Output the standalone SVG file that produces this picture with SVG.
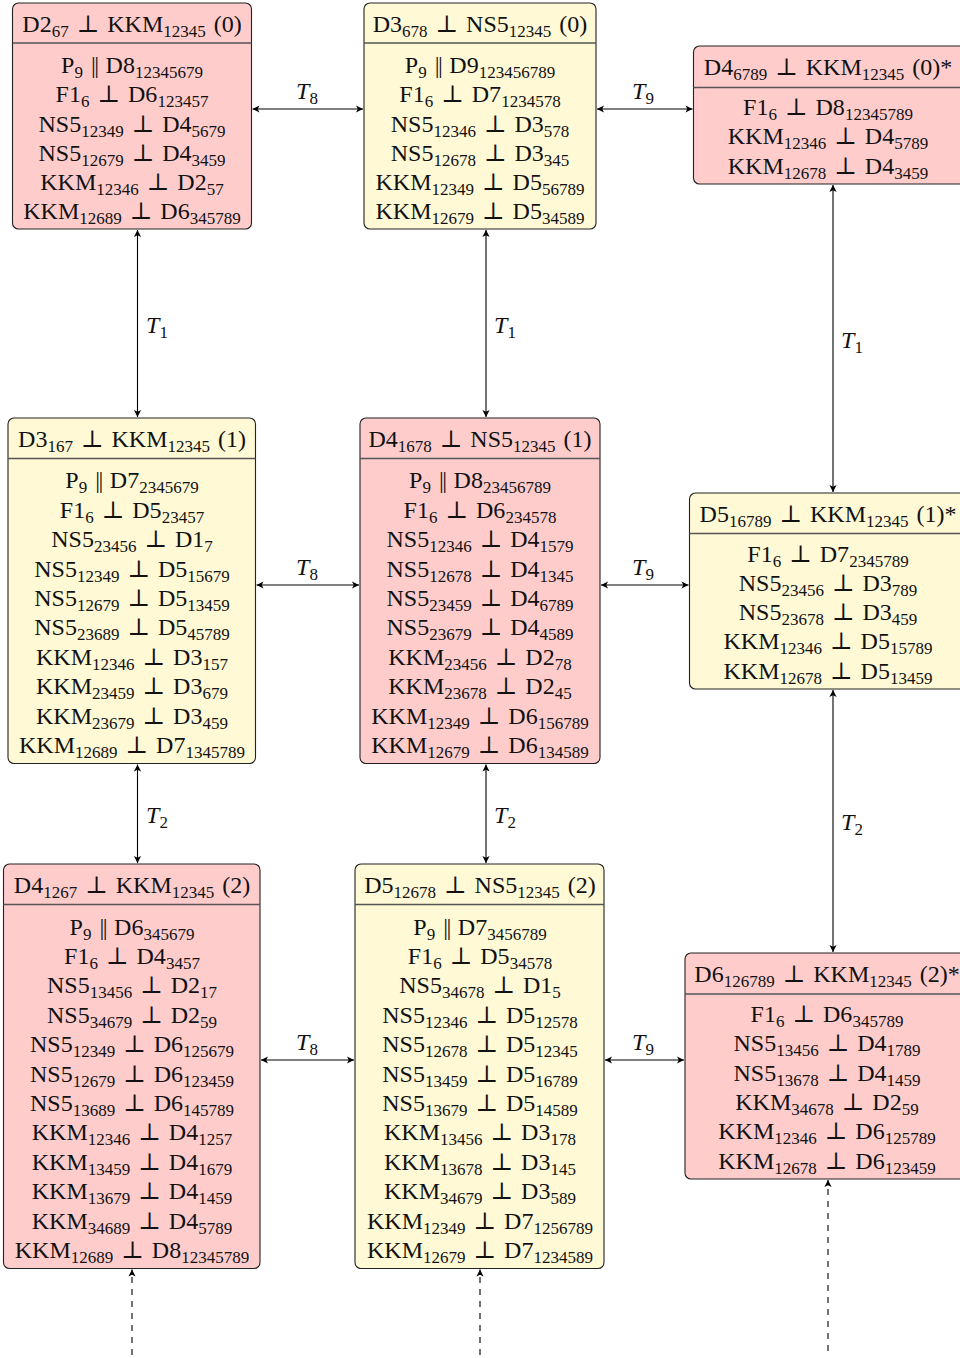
<svg xmlns="http://www.w3.org/2000/svg" width="960" height="1358" viewBox="0 0 960 1358">
<style>
.bx{stroke:#222;stroke-width:1.1}
.pk{fill:#FFCCCC}
.yl{fill:#FFF9D6}
.dv{stroke:#555;stroke-width:1.4}
text{font-family:"Liberation Serif","DejaVu Serif",serif;font-size:24px;fill:#111;text-anchor:middle;word-spacing:2px}
.s{font-size:17px;baseline-shift:-4.5px}
.i{font-style:italic}
.p{letter-spacing:-1.5px}
.c{stroke:#000;stroke-width:1.1;fill:none}
.d{stroke-dasharray:6 6}
</style>
<defs>
<marker id="ah" viewBox="-8 -5 9 10" refX="0" refY="0" markerWidth="9" markerHeight="10" markerUnits="userSpaceOnUse" orient="auto-start-reverse">
<path d="M0,0 L-7,-3.6 L-5.2,0 L-7,3.6 Z" fill="#000"/>
</marker>
</defs>

<g id="connectors">
<line class="c" x1="252.5" y1="109" x2="363" y2="109" marker-start="url(#ah)" marker-end="url(#ah)"/>
<line class="c" x1="597" y1="109" x2="692.5" y2="109" marker-start="url(#ah)" marker-end="url(#ah)"/>
<line class="c" x1="256.5" y1="585" x2="359" y2="585" marker-start="url(#ah)" marker-end="url(#ah)"/>
<line class="c" x1="601" y1="585" x2="688.5" y2="585" marker-start="url(#ah)" marker-end="url(#ah)"/>
<line class="c" x1="261" y1="1060" x2="354" y2="1060" marker-start="url(#ah)" marker-end="url(#ah)"/>
<line class="c" x1="605" y1="1060" x2="684" y2="1060" marker-start="url(#ah)" marker-end="url(#ah)"/>
<line class="c" x1="137.5" y1="230" x2="137.5" y2="417" marker-start="url(#ah)" marker-end="url(#ah)"/>
<line class="c" x1="486" y1="230" x2="486" y2="417" marker-start="url(#ah)" marker-end="url(#ah)"/>
<line class="c" x1="833" y1="185" x2="833" y2="492" marker-start="url(#ah)" marker-end="url(#ah)"/>
<line class="c" x1="137.5" y1="764.5" x2="137.5" y2="863" marker-start="url(#ah)" marker-end="url(#ah)"/>
<line class="c" x1="486" y1="764.5" x2="486" y2="863" marker-start="url(#ah)" marker-end="url(#ah)"/>
<line class="c" x1="833" y1="690" x2="833" y2="952" marker-start="url(#ah)" marker-end="url(#ah)"/>
<line class="c d" x1="132" y1="1355" x2="132" y2="1269.5" marker-end="url(#ah)"/>
<line class="c d" x1="480" y1="1355" x2="480" y2="1269.5" marker-end="url(#ah)"/>
<line class="c d" x1="828" y1="1351" x2="828" y2="1180" marker-end="url(#ah)"/>
<text x="307" y="99"><tspan class="i">T</tspan><tspan class="s">8</tspan></text>
<text x="643" y="99"><tspan class="i">T</tspan><tspan class="s">9</tspan></text>
<text x="307" y="575"><tspan class="i">T</tspan><tspan class="s">8</tspan></text>
<text x="643" y="575"><tspan class="i">T</tspan><tspan class="s">9</tspan></text>
<text x="307" y="1050"><tspan class="i">T</tspan><tspan class="s">8</tspan></text>
<text x="643" y="1050"><tspan class="i">T</tspan><tspan class="s">9</tspan></text>
<text x="157" y="333"><tspan class="i">T</tspan><tspan class="s">1</tspan></text>
<text x="505" y="333"><tspan class="i">T</tspan><tspan class="s">1</tspan></text>
<text x="852" y="348"><tspan class="i">T</tspan><tspan class="s">1</tspan></text>
<text x="157" y="823"><tspan class="i">T</tspan><tspan class="s">2</tspan></text>
<text x="505" y="823"><tspan class="i">T</tspan><tspan class="s">2</tspan></text>
<text x="852" y="830"><tspan class="i">T</tspan><tspan class="s">2</tspan></text>
</g>

<g id="n1">
<rect class="bx pk" x="12.5" y="3" width="239" height="226" rx="6"/>
<line class="dv" x1="12.5" y1="43" x2="251.5" y2="43"/>
<text x="132" y="31.5">D2<tspan class="s">67</tspan> ⊥ KKM<tspan class="s">12345</tspan> (0)</text>
<text x="132" y="73">P<tspan class="s">9</tspan> <tspan class="p">||</tspan> D8<tspan class="s">12345679</tspan></text>
<text x="132" y="102">F1<tspan class="s">6</tspan> ⊥ D6<tspan class="s">123457</tspan></text>
<text x="132" y="131.5">NS5<tspan class="s">12349</tspan> ⊥ D4<tspan class="s">5679</tspan></text>
<text x="132" y="160.5">NS5<tspan class="s">12679</tspan> ⊥ D4<tspan class="s">3459</tspan></text>
<text x="132" y="190">KKM<tspan class="s">12346</tspan> ⊥ D2<tspan class="s">57</tspan></text>
<text x="132" y="219">KKM<tspan class="s">12689</tspan> ⊥ D6<tspan class="s">345789</tspan></text>
</g>

<g id="n2">
<rect class="bx yl" x="364" y="3" width="232" height="226" rx="6"/>
<line class="dv" x1="364" y1="43" x2="596" y2="43"/>
<text x="480" y="31.5">D3<tspan class="s">678</tspan> ⊥ NS5<tspan class="s">12345</tspan> (0)</text>
<text x="480" y="73">P<tspan class="s">9</tspan> <tspan class="p">||</tspan> D9<tspan class="s">123456789</tspan></text>
<text x="480" y="102">F1<tspan class="s">6</tspan> ⊥ D7<tspan class="s">1234578</tspan></text>
<text x="480" y="131.5">NS5<tspan class="s">12346</tspan> ⊥ D3<tspan class="s">578</tspan></text>
<text x="480" y="160.5">NS5<tspan class="s">12678</tspan> ⊥ D3<tspan class="s">345</tspan></text>
<text x="480" y="190">KKM<tspan class="s">12349</tspan> ⊥ D5<tspan class="s">56789</tspan></text>
<text x="480" y="219">KKM<tspan class="s">12679</tspan> ⊥ D5<tspan class="s">34589</tspan></text>
</g>

<g id="n3">
<rect class="bx pk" x="693.5" y="46" width="272" height="138" rx="6"/>
<line class="dv" x1="693.5" y1="87.5" x2="965.5" y2="87.5"/>
<text x="828" y="74.5">D4<tspan class="s">6789</tspan> ⊥ KKM<tspan class="s">12345</tspan> (0)*</text>
<text x="828" y="115">F1<tspan class="s">6</tspan> ⊥ D8<tspan class="s">12345789</tspan></text>
<text x="828" y="144.3">KKM<tspan class="s">12346</tspan> ⊥ D4<tspan class="s">5789</tspan></text>
<text x="828" y="173.6">KKM<tspan class="s">12678</tspan> ⊥ D4<tspan class="s">3459</tspan></text>
</g>

<g id="n4">
<rect class="bx yl" x="8" y="418" width="247.5" height="345.5" rx="6"/>
<line class="dv" x1="8" y1="458.5" x2="255.5" y2="458.5"/>
<text x="132" y="446.5">D3<tspan class="s">167</tspan> ⊥ KKM<tspan class="s">12345</tspan> (1)</text>
<text x="132" y="488.4">P<tspan class="s">9</tspan> <tspan class="p">||</tspan> D7<tspan class="s">2345679</tspan></text>
<text x="132" y="517.8">F1<tspan class="s">6</tspan> ⊥ D5<tspan class="s">23457</tspan></text>
<text x="132" y="547.2">NS5<tspan class="s">23456</tspan> ⊥ D1<tspan class="s">7</tspan></text>
<text x="132" y="576.6">NS5<tspan class="s">12349</tspan> ⊥ D5<tspan class="s">15679</tspan></text>
<text x="132" y="606">NS5<tspan class="s">12679</tspan> ⊥ D5<tspan class="s">13459</tspan></text>
<text x="132" y="635.4">NS5<tspan class="s">23689</tspan> ⊥ D5<tspan class="s">45789</tspan></text>
<text x="132" y="664.8">KKM<tspan class="s">12346</tspan> ⊥ D3<tspan class="s">157</tspan></text>
<text x="132" y="694.2">KKM<tspan class="s">23459</tspan> ⊥ D3<tspan class="s">679</tspan></text>
<text x="132" y="723.6">KKM<tspan class="s">23679</tspan> ⊥ D3<tspan class="s">459</tspan></text>
<text x="132" y="753">KKM<tspan class="s">12689</tspan> ⊥ D7<tspan class="s">1345789</tspan></text>
</g>

<g id="n5">
<rect class="bx pk" x="360" y="418" width="240" height="345.5" rx="6"/>
<line class="dv" x1="360" y1="458.5" x2="600" y2="458.5"/>
<text x="480" y="446.5">D4<tspan class="s">1678</tspan> ⊥ NS5<tspan class="s">12345</tspan> (1)</text>
<text x="480" y="488.4">P<tspan class="s">9</tspan> <tspan class="p">||</tspan> D8<tspan class="s">23456789</tspan></text>
<text x="480" y="517.8">F1<tspan class="s">6</tspan> ⊥ D6<tspan class="s">234578</tspan></text>
<text x="480" y="547.2">NS5<tspan class="s">12346</tspan> ⊥ D4<tspan class="s">1579</tspan></text>
<text x="480" y="576.6">NS5<tspan class="s">12678</tspan> ⊥ D4<tspan class="s">1345</tspan></text>
<text x="480" y="606">NS5<tspan class="s">23459</tspan> ⊥ D4<tspan class="s">6789</tspan></text>
<text x="480" y="635.4">NS5<tspan class="s">23679</tspan> ⊥ D4<tspan class="s">4589</tspan></text>
<text x="480" y="664.8">KKM<tspan class="s">23456</tspan> ⊥ D2<tspan class="s">78</tspan></text>
<text x="480" y="694.2">KKM<tspan class="s">23678</tspan> ⊥ D2<tspan class="s">45</tspan></text>
<text x="480" y="723.6">KKM<tspan class="s">12349</tspan> ⊥ D6<tspan class="s">156789</tspan></text>
<text x="480" y="753">KKM<tspan class="s">12679</tspan> ⊥ D6<tspan class="s">134589</tspan></text>
</g>

<g id="n6">
<rect class="bx yl" x="689.5" y="493" width="277" height="196" rx="6"/>
<line class="dv" x1="689.5" y1="533.5" x2="966.5" y2="533.5"/>
<text x="828" y="521.5">D5<tspan class="s">16789</tspan> ⊥ KKM<tspan class="s">12345</tspan> (1)*</text>
<text x="828" y="561.5">F1<tspan class="s">6</tspan> ⊥ D7<tspan class="s">2345789</tspan></text>
<text x="828" y="590.8">NS5<tspan class="s">23456</tspan> ⊥ D3<tspan class="s">789</tspan></text>
<text x="828" y="620.1">NS5<tspan class="s">23678</tspan> ⊥ D3<tspan class="s">459</tspan></text>
<text x="828" y="649.4">KKM<tspan class="s">12346</tspan> ⊥ D5<tspan class="s">15789</tspan></text>
<text x="828" y="678.7">KKM<tspan class="s">12678</tspan> ⊥ D5<tspan class="s">13459</tspan></text>
</g>

<g id="n7">
<rect class="bx pk" x="3.5" y="864" width="256.5" height="404.5" rx="6"/>
<line class="dv" x1="3.5" y1="904.5" x2="260" y2="904.5"/>
<text x="132" y="892.5">D4<tspan class="s">1267</tspan> ⊥ KKM<tspan class="s">12345</tspan> (2)</text>
<text x="132" y="934.6">P<tspan class="s">9</tspan> <tspan class="p">||</tspan> D6<tspan class="s">345679</tspan></text>
<text x="132" y="964">F1<tspan class="s">6</tspan> ⊥ D4<tspan class="s">3457</tspan></text>
<text x="132" y="993.4">NS5<tspan class="s">13456</tspan> ⊥ D2<tspan class="s">17</tspan></text>
<text x="132" y="1022.8">NS5<tspan class="s">34679</tspan> ⊥ D2<tspan class="s">59</tspan></text>
<text x="132" y="1052.2">NS5<tspan class="s">12349</tspan> ⊥ D6<tspan class="s">125679</tspan></text>
<text x="132" y="1081.6">NS5<tspan class="s">12679</tspan> ⊥ D6<tspan class="s">123459</tspan></text>
<text x="132" y="1111">NS5<tspan class="s">13689</tspan> ⊥ D6<tspan class="s">145789</tspan></text>
<text x="132" y="1140.4">KKM<tspan class="s">12346</tspan> ⊥ D4<tspan class="s">1257</tspan></text>
<text x="132" y="1169.8">KKM<tspan class="s">13459</tspan> ⊥ D4<tspan class="s">1679</tspan></text>
<text x="132" y="1199.2">KKM<tspan class="s">13679</tspan> ⊥ D4<tspan class="s">1459</tspan></text>
<text x="132" y="1228.6">KKM<tspan class="s">34689</tspan> ⊥ D4<tspan class="s">5789</tspan></text>
<text x="132" y="1258">KKM<tspan class="s">12689</tspan> ⊥ D8<tspan class="s">12345789</tspan></text>
</g>

<g id="n8">
<rect class="bx yl" x="355" y="864" width="249" height="404.5" rx="6"/>
<line class="dv" x1="355" y1="904.5" x2="604" y2="904.5"/>
<text x="480" y="892.5">D5<tspan class="s">12678</tspan> ⊥ NS5<tspan class="s">12345</tspan> (2)</text>
<text x="480" y="934.6">P<tspan class="s">9</tspan> <tspan class="p">||</tspan> D7<tspan class="s">3456789</tspan></text>
<text x="480" y="964">F1<tspan class="s">6</tspan> ⊥ D5<tspan class="s">34578</tspan></text>
<text x="480" y="993.4">NS5<tspan class="s">34678</tspan> ⊥ D1<tspan class="s">5</tspan></text>
<text x="480" y="1022.8">NS5<tspan class="s">12346</tspan> ⊥ D5<tspan class="s">12578</tspan></text>
<text x="480" y="1052.2">NS5<tspan class="s">12678</tspan> ⊥ D5<tspan class="s">12345</tspan></text>
<text x="480" y="1081.6">NS5<tspan class="s">13459</tspan> ⊥ D5<tspan class="s">16789</tspan></text>
<text x="480" y="1111">NS5<tspan class="s">13679</tspan> ⊥ D5<tspan class="s">14589</tspan></text>
<text x="480" y="1140.4">KKM<tspan class="s">13456</tspan> ⊥ D3<tspan class="s">178</tspan></text>
<text x="480" y="1169.8">KKM<tspan class="s">13678</tspan> ⊥ D3<tspan class="s">145</tspan></text>
<text x="480" y="1199.2">KKM<tspan class="s">34679</tspan> ⊥ D3<tspan class="s">589</tspan></text>
<text x="480" y="1228.6">KKM<tspan class="s">12349</tspan> ⊥ D7<tspan class="s">1256789</tspan></text>
<text x="480" y="1258">KKM<tspan class="s">12679</tspan> ⊥ D7<tspan class="s">1234589</tspan></text>
</g>

<g id="n9">
<rect class="bx pk" x="685" y="953" width="282" height="226" rx="6"/>
<line class="dv" x1="685" y1="994" x2="967" y2="994"/>
<text x="827" y="981.5">D6<tspan class="s">126789</tspan> ⊥ KKM<tspan class="s">12345</tspan> (2)*</text>
<text x="827" y="1022">F1<tspan class="s">6</tspan> ⊥ D6<tspan class="s">345789</tspan></text>
<text x="827" y="1051.3">NS5<tspan class="s">13456</tspan> ⊥ D4<tspan class="s">1789</tspan></text>
<text x="827" y="1080.6">NS5<tspan class="s">13678</tspan> ⊥ D4<tspan class="s">1459</tspan></text>
<text x="827" y="1109.9">KKM<tspan class="s">34678</tspan> ⊥ D2<tspan class="s">59</tspan></text>
<text x="827" y="1139.2">KKM<tspan class="s">12346</tspan> ⊥ D6<tspan class="s">125789</tspan></text>
<text x="827" y="1168.5">KKM<tspan class="s">12678</tspan> ⊥ D6<tspan class="s">123459</tspan></text>
</g>
</svg>
